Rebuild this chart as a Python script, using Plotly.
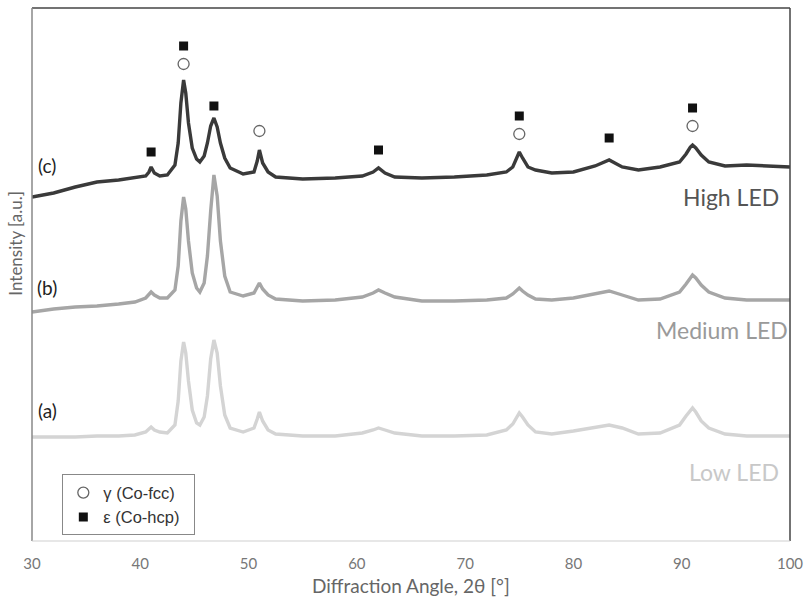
import plotly.graph_objects as go

# 2-theta sampling positions (degrees)
angles = [30, 32, 34, 36, 38, 39.5, 40.5, 40.8, 41, 41.3,
          41.8, 42.5, 43.2, 43.5, 43.75, 44, 44.2, 44.45, 44.8, 45.2,
          45.5, 45.9, 46.2, 46.5, 46.8, 47.1, 47.4, 47.8, 48.3, 49.5,
          50.5, 50.8, 51, 51.3, 51.8, 52.5, 55, 58, 60.5, 61.5,
          62, 62.6, 63.5, 66, 69, 72, 73.8, 74.4, 74.8, 75,
          75.3, 75.8, 76.5, 78, 80, 82, 83.3, 84.5, 86, 88,
          89.8, 90.4, 90.8, 91, 91.3, 91.8, 92.5, 94, 96, 98,
          100]

# offset intensity patterns (a.u.)
high_led = [344, 348, 354, 359, 361, 363, 365, 369, 374, 368,
            365, 366, 376, 398, 438, 461, 448, 418, 393, 382,
            379, 385, 398, 415, 423, 414, 398, 383, 373, 367,
            369, 380, 391, 378, 369, 364, 362, 363, 365, 369,
            373, 368, 364, 363, 364, 366, 369, 374, 384, 389,
            383, 374, 371, 368, 369, 375, 381, 374, 371, 374,
            379, 387, 394, 396, 393, 386, 379, 375, 376, 375,
            374]
medium_led = [229, 232, 234, 235, 237, 239, 243, 246, 249, 246,
              243, 243, 251, 275, 320, 344, 332, 300, 268, 253,
              249, 258, 285, 330, 366, 345, 300, 265, 249, 245,
              248, 254, 258, 252, 246, 242, 240, 241, 244, 248,
              251, 248, 244, 240, 240, 241, 243, 247, 251, 253,
              250, 246, 242, 241, 243, 247, 250, 246, 241, 242,
              249, 257, 264, 266, 263, 256, 249, 243, 241, 241,
              241]
low_led = [104, 104, 104, 105, 105, 106, 109, 112, 114, 111,
           109, 108, 116, 140, 180, 199, 188, 160, 131, 118,
           116, 124, 145, 182, 201, 188, 155, 126, 113, 109,
           113, 122, 129, 120, 111, 107, 105, 105, 108, 111,
           113, 111, 108, 105, 105, 106, 111, 117, 125, 128,
           124, 116, 109, 107, 110, 114, 116, 113, 107, 108,
           116, 125, 131, 133, 129, 120, 113, 107, 105, 105,
           105]

# phase markers above the High LED pattern
fcc_angles = [44, 51, 75, 91]
fcc_levels = [477, 410, 407, 415]
hcp_angles = [41, 44, 46.8, 62, 75, 83.3, 91]
hcp_levels = [389, 495, 435, 391, 425, 403, 433]

x_ticks = [30, 40, 50, 60, 70, 80, 90, 100]

fig = go.Figure()

for vals, col in [(low_led, "#d4d4d4"), (medium_led, "#a6a6a6"), (high_led, "#3a3a3a")]:
    fig.add_trace(go.Scatter(x=angles, y=vals, mode="lines",
                             line=dict(color=col, width=3.4),
                             showlegend=False, hoverinfo="skip"))

fig.add_trace(go.Scatter(x=fcc_angles, y=fcc_levels, mode="markers", name="γ (Co-fcc)  ",
                         marker=dict(symbol="circle-open", size=11, color="#666666",
                                     line=dict(color="#666666", width=1.3))))
fig.add_trace(go.Scatter(x=hcp_angles, y=hcp_levels, mode="markers", name="ε (Co-hcp)  ",
                         marker=dict(symbol="square", size=9, color="#111111")))

font_main = "Lato, 'Open Sans', sans-serif"

annotations = [
    dict(x=31.4, y=376, text="(c)", font=dict(size=19, color="#222222")),
    dict(x=31.4, y=254, text="(b)", font=dict(size=19, color="#222222")),
    dict(x=31.4, y=131, text="(a)", font=dict(size=19, color="#222222")),
    dict(x=99.2, y=344, text="High LED", xanchor="right", font=dict(size=23, color="#555555")),
    dict(x=100, y=211, text="Medium LED", xanchor="right", font=dict(size=23, color="#9a9a9a")),
    dict(x=99.2, y=69, text="Low LED", xanchor="right", font=dict(size=23, color="#c8c8c8")),
]
for a in annotations:
    a.setdefault("xanchor", "center")
    a.update(xref="x", yref="y", showarrow=False, yanchor="middle")
    a["font"]["family"] = font_main

# axis titles placed as free text
annotations.append(dict(xref="paper", yref="paper", x=0.5, y=-0.084, xanchor="center", yanchor="middle",
                        text="Diffraction Angle, 2θ [°]", showarrow=False,
                        font=dict(family=font_main, size=19, color="#666666")))
annotations.append(dict(xref="paper", yref="paper", x=-0.021, y=0.558, xanchor="center", yanchor="middle",
                        text="Intensity [a.u.]", textangle=-90, showarrow=False,
                        font=dict(family=font_main, size=17, color="#666666")))

shapes = [
    dict(type="line", xref="paper", yref="paper", x0=0, x1=1, y0=1, y1=1, line=dict(color="#444444", width=1.5)),
    dict(type="line", xref="paper", yref="paper", x0=1, x1=1, y0=0, y1=1, line=dict(color="#444444", width=1.5)),
    dict(type="line", xref="paper", yref="paper", x0=0, x1=0, y0=0, y1=1, line=dict(color="#888888", width=1.5)),
    dict(type="line", xref="paper", yref="paper", x0=0, x1=1, y0=0, y1=0, line=dict(color="#d0d0d0", width=1.2)),
]

fig.update_layout(
    width=804, height=599,
    margin=dict(l=32, r=14, t=8, b=58, autoexpand=False),
    paper_bgcolor="white", plot_bgcolor="white",
    font=dict(family=font_main, color="#777777"),
    xaxis=dict(range=[30, 100], tickvals=x_ticks, ticks="", showgrid=False, zeroline=False,
               showline=False, automargin=False, ticklabelstandoff=12,
               tickfont=dict(size=15, color="#777777")),
    yaxis=dict(range=[0, 533], showticklabels=False, ticks="", showgrid=False, zeroline=False,
               showline=False, automargin=False),
    legend=dict(x=0.04, y=0.125, xanchor="left", yanchor="top",
                bgcolor="white", bordercolor="#888888", borderwidth=1,
                font=dict(family="'Liberation Sans', Arial, sans-serif", size=16.5, color="#333333"),
                itemwidth=30, tracegroupgap=2),
    annotations=annotations,
    shapes=shapes,
)

fig.write_html("out.html")
